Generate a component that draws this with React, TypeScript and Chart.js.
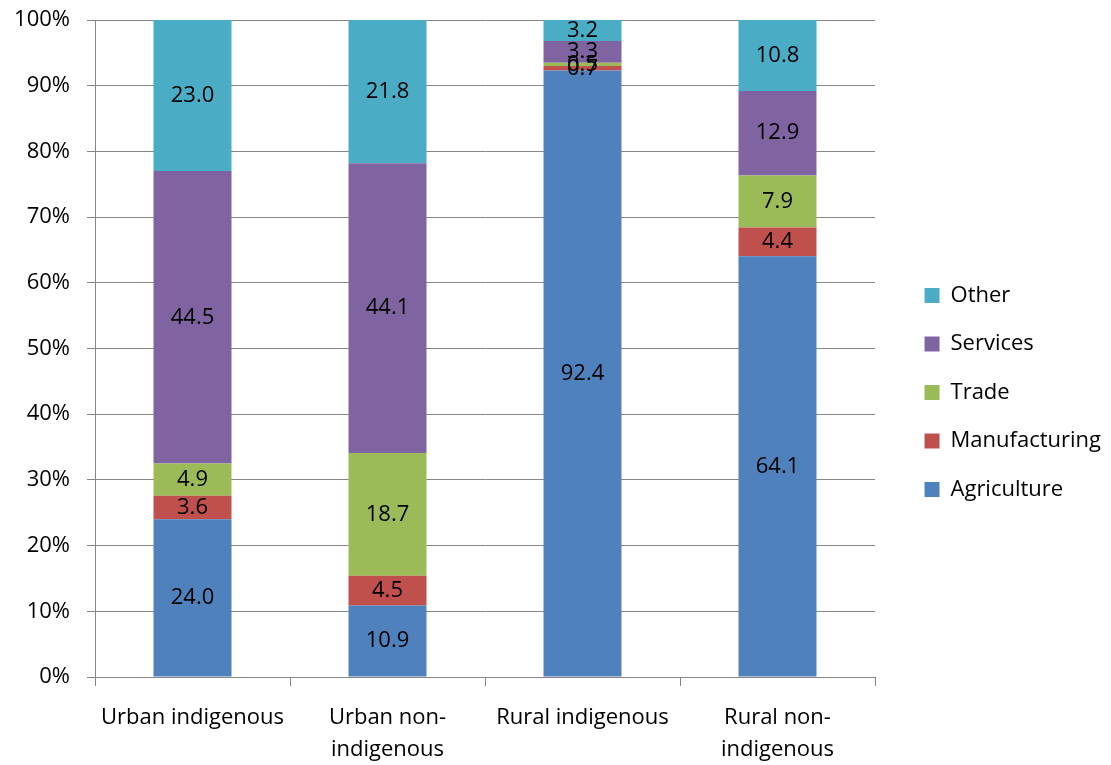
import React, { useEffect, useRef } from "react";
import { Chart, registerables } from "chart.js";

Chart.register(...registerables);

const categories: (string | string[])[] = [
  "Urban indigenous",
  ["Urban non-", "indigenous"],
  "Rural indigenous",
  ["Rural non-", "indigenous"],
];

const agriculture = [24.0, 10.9, 92.4, 64.1];
const manufacturing = [3.6, 4.5, 0.7, 4.4];
const trade = [4.9, 18.7, 0.5, 7.9];
const services = [44.5, 44.1, 3.3, 12.9];
const other = [23.0, 21.8, 3.2, 10.8];

const yTicks = [0, 10, 20, 30, 40, 50, 60, 70, 80, 90, 100];

const seriesNames = ["Agriculture", "Manufacturing", "Trade", "Services", "Other"];
const seriesValues = [agriculture, manufacturing, trade, services, other];
const seriesColors = ["#4F81BD", "#C0504D", "#9BBB59", "#8064A2", "#4BACC6"];

const FONT = "'Open Sans', 'Noto Sans', sans-serif";
const GRID = "#868686";

const totals = categories.map((_, i) => seriesValues.reduce((s, arr) => s + arr[i], 0));

const dataLabels = {
  id: "dataLabels",
  afterDatasetsDraw(chart: any) {
    const ctx = chart.ctx;
    ctx.save();
    ctx.font = `22px ${FONT}`;
    ctx.fillStyle = "#000";
    ctx.textAlign = "center";
    ctx.textBaseline = "middle";
    chart.data.datasets.forEach((ds: any, di: number) => {
      const meta = chart.getDatasetMeta(di);
      meta.data.forEach((el: any, i: number) => {
        const raw = ds.rawValues[i];
        const y = (el.y + el.base) / 2;
        ctx.fillText(raw.toFixed(1), el.x, y);
      });
    });
    ctx.restore();
  },
};

export default function App() {
  const ref = useRef<HTMLCanvasElement>(null);

  useEffect(() => {
    if (!ref.current) return;
    Chart.defaults.font.family = FONT;
    const chart = new Chart(ref.current, {
      type: "bar",
      data: {
        labels: categories as any,
        datasets: seriesNames.map((name, k) => ({
          label: name,
          data: seriesValues[k].map((v, i) => (v / totals[i]) * 100),
          rawValues: seriesValues[k],
          backgroundColor: seriesColors[k],
          borderWidth: 0,
          barPercentage: 0.4,
          categoryPercentage: 1,
        })) as any,
      },
      options: {
        responsive: false,
        animation: false,
        layout: { padding: { top: 20, left: 0, right: 0, bottom: 0 } },
        plugins: {
          legend: {
            position: "right",
            reverse: true,
            maxWidth: 300,
            labels: {
              boxWidth: 15,
              boxHeight: 15,
              padding: 26.5,
              color: "#000",
              font: { size: 22, family: FONT },
            },
          } as any,
          tooltip: { enabled: false },
        },
        scales: {
          x: {
            stacked: true,
            offset: true,
            grid: {
              offset: true,
              drawOnChartArea: false,
              drawTicks: true,
              tickLength: 9,
              color: GRID,
            },
            border: { color: GRID, width: 1 },
            ticks: {
              color: "#000",
              padding: 16,
              maxRotation: 0,
              autoSkip: false,
              font: { size: 22, family: FONT, lineHeight: 32 / 22 },
            },
            afterFit: (s: any) => {
              s.height = 88;
              s.paddingLeft = 0;
              s.paddingRight = 0;
            },
          },
          y: {
            stacked: true,
            min: 0,
            max: 100,
            afterBuildTicks: (s: any) => {
              s.ticks = yTicks.map((v) => ({ value: v }));
            },
            grid: { color: GRID, tickLength: 8, drawTicks: true },
            border: { color: GRID, width: 1 },
            ticks: {
              color: "#000",
              padding: 17,
              font: { size: 22, family: FONT },
              callback: (v: any) => `${v}%`,
            },
            afterFit: (s: any) => {
              s.width = 95;
              s.paddingTop = 0;
              s.paddingBottom = 0;
            },
          },
          spacer: {
            type: "linear",
            position: "right",
            display: true,
            grid: { display: false, drawTicks: false },
            border: { display: false },
            ticks: { display: false },
            afterFit: (s: any) => {
              const lw = s.chart.legend ? s.chart.legend.width : 0;
              s.width = Math.max(0, s.chart.width - 875 - lw);
              s.paddingTop = 0;
              s.paddingBottom = 0;
            },
          },
        } as any,
      },
      plugins: [dataLabels],
    });
    return () => chart.destroy();
  }, []);

  return (
    <div style={{ position: "absolute", left: 0, top: 0, width: 1111, height: 765, background: "#fff" }}>
      <canvas ref={ref} width={1111} height={765} />
    </div>
  );
}
